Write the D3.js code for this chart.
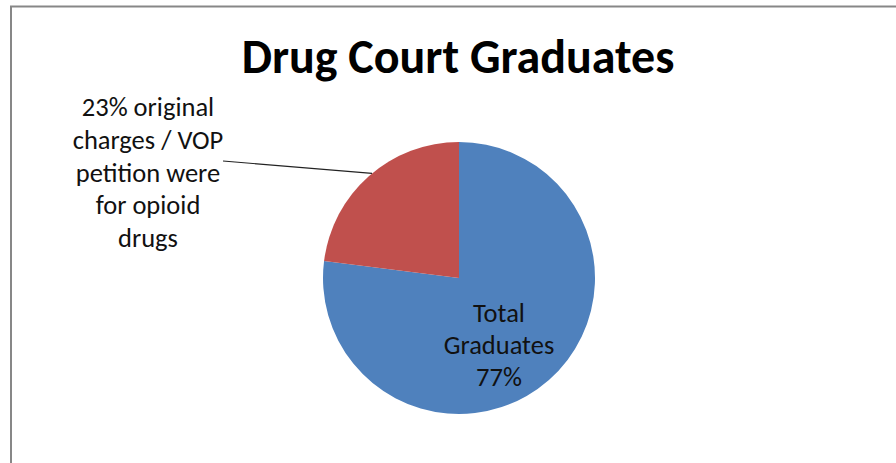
<!DOCTYPE html>
<html>
<head>
<meta charset="utf-8">
<script src="https://cdn.jsdelivr.net/npm/d3@7"></script>
<style>
  html, body { margin: 0; padding: 0; background: #fff; }
  svg { display: block; }
</style>
</head>
<body>
<svg id="chart" width="896" height="463"></svg>
<script>
// Slice data: graduates first, starting at 12 o'clock and running clockwise
const categories = ["Total Graduates", "Opioid charges / VOP"];
const values = [77, 23];
const colors = ["#4F81BD", "#C0504D"];
const titleText = "Drug Court Graduates";
const insideLabelLines = ["Total", "Graduates", "77%"];
const outsideLabelLines = ["23% original", "charges / VOP", "petition were", "for opioid", "drugs"];

const W = 896, H = 463;
const cx = 459, cy = 278, radius = 136;
const FONT = "Carlito, Calibri, Lato, 'Open Sans', sans-serif";

const svg = d3.select("#chart");

// Chart frame (top and left edges visible in the crop)
svg.append("path")
  .attr("d", `M11,${H} L11,6.5 L${W},6.5`)
  .attr("fill", "none")
  .attr("stroke", "#878787")
  .attr("stroke-width", 2);

// Title
svg.append("text")
  .attr("x", 458)
  .attr("y", 73)
  .attr("text-anchor", "middle")
  .attr("font-family", FONT)
  .attr("font-weight", "bold")
  .attr("font-size", 48)
  .attr("fill", "#000")
  .text(titleText);

const pie = d3.pie().sort(null).value(d => d)(values);
const arc = d3.arc().innerRadius(0).outerRadius(radius);

const g = svg.append("g").attr("transform", `translate(${cx},${cy})`);
g.selectAll("path.slice")
  .data(pie)
  .join("path")
  .attr("class", "slice")
  .attr("d", arc)
  .attr("fill", (d, i) => colors[i]);

// Label inside the graduates slice
const inner = svg.append("text")
  .attr("text-anchor", "middle")
  .attr("font-family", FONT)
  .attr("font-size", 26.5)
  .attr("fill", "#111");
insideLabelLines.forEach((t, i) => {
  inner.append("tspan").attr("x", 499).attr("y", 322 + i * 32).text(t);
});

// Outside label for the opioid slice with a leader line to its edge
const outer = svg.append("text")
  .attr("text-anchor", "middle")
  .attr("font-family", FONT)
  .attr("font-size", 26.5)
  .attr("fill", "#111");
outsideLabelLines.forEach((t, i) => {
  outer.append("tspan").attr("x", 148).attr("y", 116 + i * 32.8).text(t);
});

// Leader line ends on the arc of the opioid slice
const redSlice = pie[1];
const leaderAngle = redSlice.startAngle + (redSlice.endAngle - redSlice.startAngle) * 0.52;
const edge = [cx + Math.sin(leaderAngle) * radius, cy - Math.cos(leaderAngle) * radius];
svg.append("line")
  .attr("x1", 223).attr("y1", 161)
  .attr("x2", edge[0]).attr("y2", edge[1])
  .attr("stroke", "#222")
  .attr("stroke-width", 1.2);
</script>
</body>
</html>
